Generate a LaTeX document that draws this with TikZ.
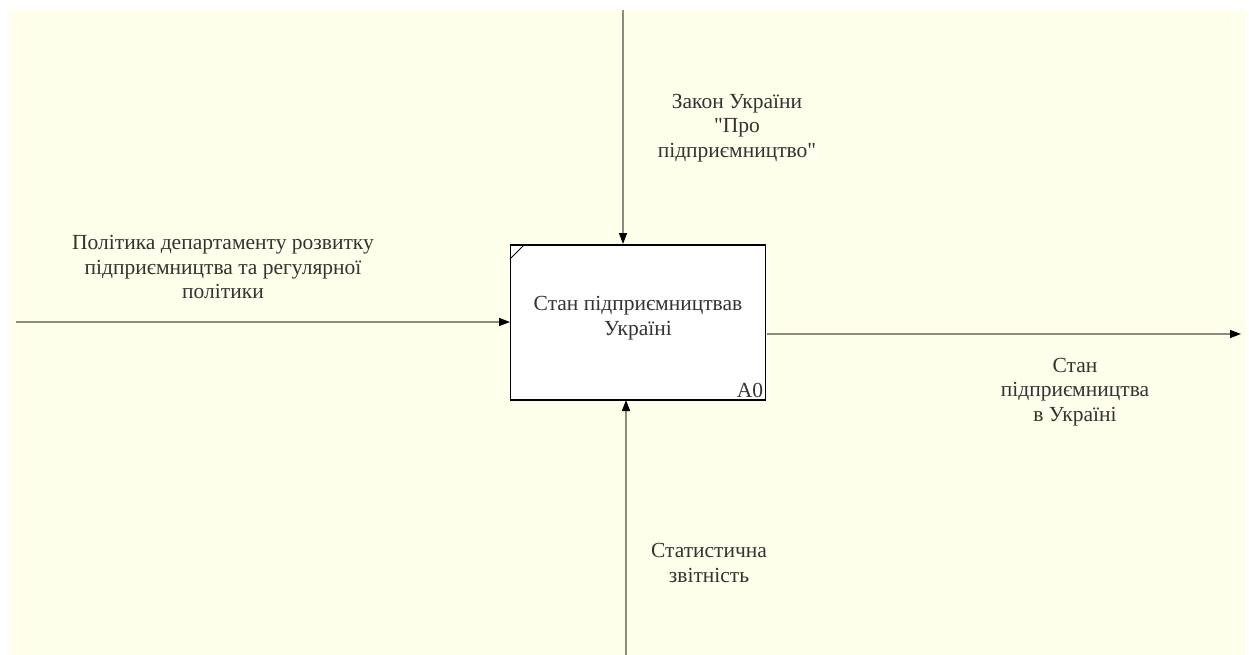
\documentclass[tikz,border=0pt]{standalone}
\usepackage{fontspec}
\setmainfont{Liberation Serif}[Ligatures=TeXOff]
\usetikzlibrary{arrows.meta}
\definecolor{bgcream}{HTML}{FFFFEB}
\definecolor{linegray}{HTML}{8C8C80}
\definecolor{txtgray}{HTML}{333333}
\tikzset{
  flow/.style={draw=linegray, line width=1.3pt, -{Triangle[length=11pt,width=8pt,fill=black,color=black]}},
  lbl/.style={align=center, text=txtgray, font=\fontsize{21.5}{24.5}\selectfont, inner sep=0pt},
  actbox/.style={draw=black, line width=1.5pt, fill=white, minimum width=255pt, minimum height=155pt, inner sep=0pt}
}
\begin{document}
\begin{tikzpicture}[x=1pt,y=-1pt]
\useasboundingbox (0,0) rectangle (1249,655);
\fill[bgcream] (9,10) rectangle (1246,655);
\node[actbox] (box) at (638,322.5) {};
\node[lbl] (boxt) at (638,318) {Стан підприємництвав\\Україні};
\node[lbl, anchor=south east] (a0) at ([xshift=-3pt,yshift=3pt]box.south east) {A0};
\draw[black, line width=1pt] ([yshift=-15pt]box.north west) -- ([xshift=15pt]box.north west);
\coordinate (topin) at (623,10);
\coordinate (topend) at (623,244);
\coordinate (leftin) at (16,322);
\coordinate (leftend) at (510,322);
\coordinate (botin) at (626,655);
\coordinate (botend) at (626,400);
\coordinate (rightst) at (767,334);
\coordinate (rightend) at (1241,334);
\draw[flow] (topin) -- (topend);
\draw[flow] (leftin) -- (leftend);
\draw[flow] (botin) -- (botend);
\draw[flow] (rightst) -- (rightend);
\node[lbl] (ctl) at (737,128) {Закон України\\"Про\\підприємництво"};
\node[lbl] (inp) at (223,267) {Політика департаменту розвитку\\підприємництва та регулярної\\політики};
\node[lbl] (outp) at (1075,392) {Стан\\підприємництва\\в Україні};
\node[lbl] (mech) at (709,563) {Статистична\\звітність};
\end{tikzpicture}
\end{document}
